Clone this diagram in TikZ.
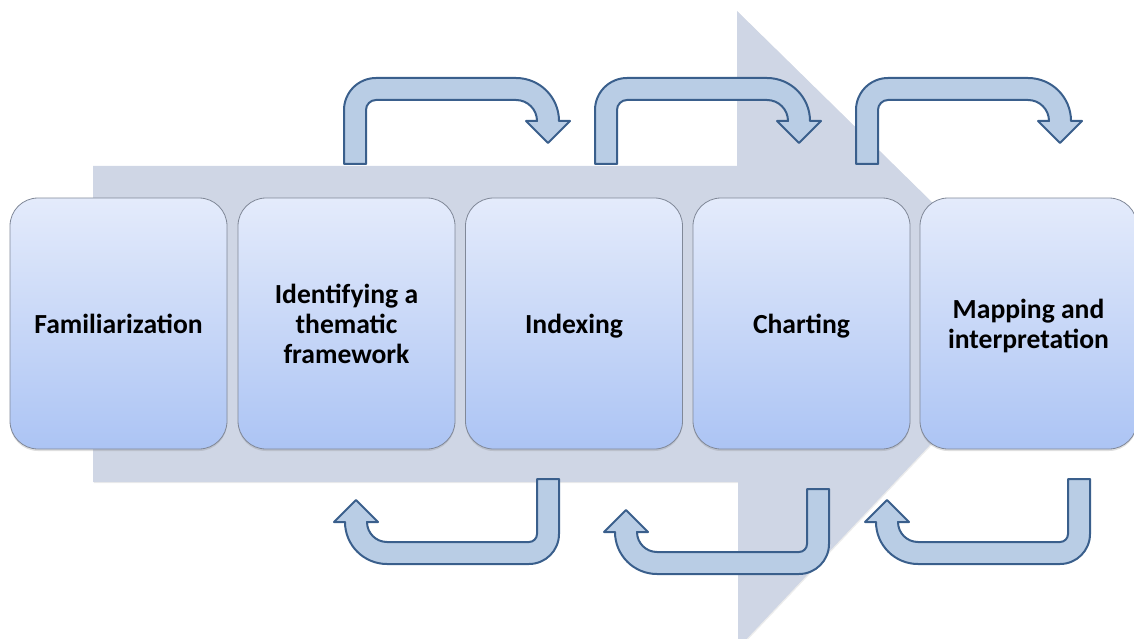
\documentclass[tikz,border=0pt]{standalone}
\usepackage{fontspec}
\setmainfont{Carlito}
\usetikzlibrary{shadows}

\definecolor{bandgrey}{RGB}{207,214,229}
\definecolor{boxtop}{RGB}{228,235,251}
\definecolor{boxbot}{RGB}{172,196,244}
\definecolor{boxline}{RGB}{128,136,152}
\definecolor{turnfill}{RGB}{185,205,229}
\definecolor{turnline}{RGB}{58,95,140}

\tikzset{
  stage/.style={rectangle, rounded corners=28pt, draw=boxline, line width=0.8pt,
    top color=boxtop, bottom color=boxbot,
    minimum width=217pt, minimum height=251pt, inner sep=4pt, text depth=0pt,
    align=center, font=\fontsize{27.6}{30}\selectfont\bfseries,
    drop shadow={shadow xshift=0pt, shadow yshift=-2pt, opacity=0.25}},
  turn/.style={fill=turnfill, draw=turnline, line width=2pt, line join=round},
  % U-turn arrow above the band; origin = bottom-left of its stem
  upturn/.pic={
    \draw[turn] (0,0) -- (0,-54) arc (180:270:32) -- (172,-86) arc (270:360:43)
      -- (226,-43) -- (204,-21) -- (182,-43) -- (193,-43) arc (360:270:21)
      -- (32,-64) arc (270:180:10) -- (22,0) -- cycle;
  },
  % U-turn arrow below the band; origin = top-right of its stem
  downturn/.pic={
    \draw[turn] (0,0) -- (0,55) arc (0:90:30) -- (-172,85) arc (90:180:42)
      -- (-225,43) -- (-203,21) -- (-181,43) -- (-192,43) arc (180:90:20)
      -- (-30,63) arc (90:0:8) -- (-22,0) -- cycle;
  }
}

\begin{document}
\begin{tikzpicture}[x=1pt,y=-1pt]
  \useasboundingbox (0,0) rectangle (1134,639);
  \clip (0,0) rectangle (1134,639);

  % broad process arrow in the background
  \fill[bandgrey, drop shadow={shadow xshift=1pt, shadow yshift=-1pt, opacity=0.15}]
    (93,166) -- (737,166) -- (737,11) -- (1050,318) -- (738,648)
    -- (738,482) -- (93,482) -- cycle;

  % feedback arrows
  \pic at (344,164) {upturn};
  \pic at (595,164) {upturn};
  \pic at (856,164) {upturn};
  \pic at (559,479) {downturn};
  \pic at (829,489) {downturn};
  \pic at (1090,479) {downturn};

  % stages
  \node[stage] (fam) at (118.5,323.5) {Familiarization};
  \node[stage] (ident) at (346.5,323.5) {Identifying a\\thematic\\framework};
  \node[stage] (index) at (574,323.5) {Indexing};
  \node[stage] (chart) at (801.5,323.5) {Charting};
  \node[stage] (map) at (1028.5,323.5) {Mapping and\\interpretation};
\end{tikzpicture}
\end{document}
